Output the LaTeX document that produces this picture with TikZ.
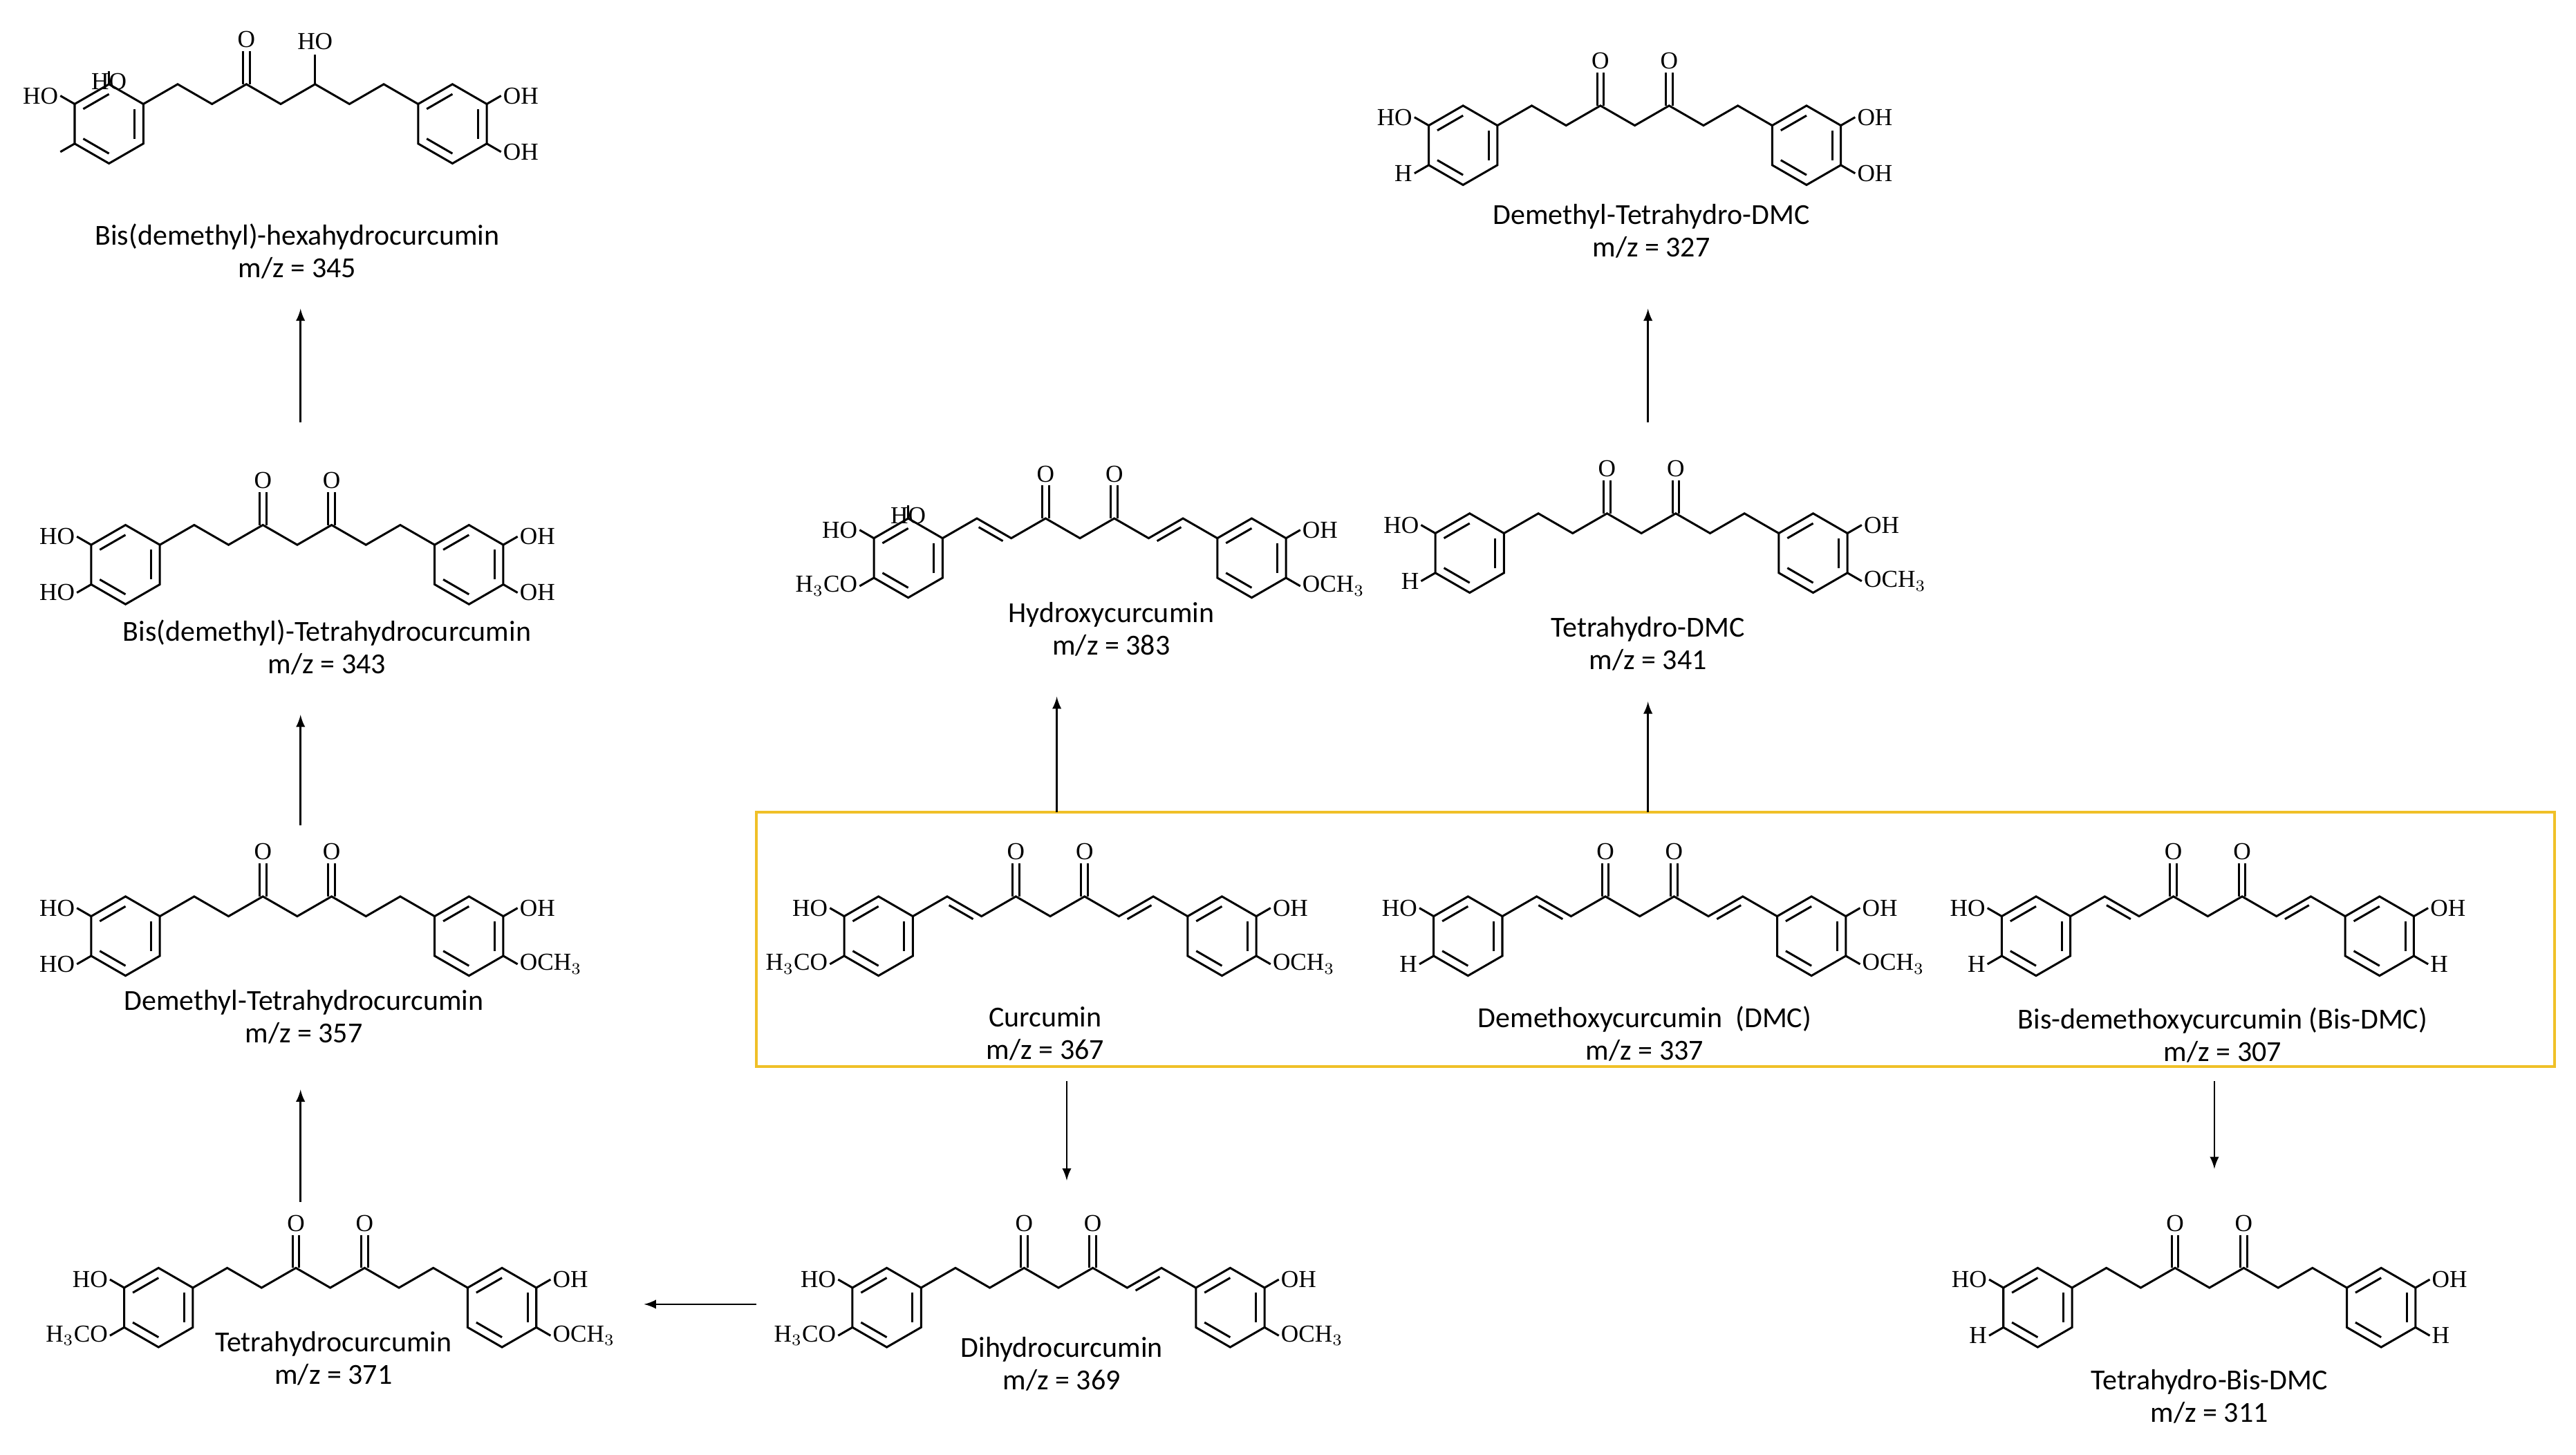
\documentclass[tikz,border=0pt]{standalone}
\usepackage{fontspec}
\setmainfont{Carlito}
\newfontfamily\atomfont{Liberation Serif}
\usetikzlibrary{calc}
\tikzset{
 bond/.style={line width=0.9pt,black},
 atom/.style={font=\atomfont\fontsize{10.5}{12}\selectfont,inner sep=0.5pt},
 mname/.style={font=\fontsize{12.5}{14}\selectfont,align=center,inner sep=0pt},
 rxn/.style={line width=0.8pt,-latex}
}
\newcommand\ringat[1]{%
 \draw[bond] ($#1+(30:24)$) -- ($#1+(90:24)$) -- ($#1+(150:24)$) -- ($#1+(210:24)$) -- ($#1+(270:24)$) -- ($#1+(330:24)$) -- cycle;
 \draw[bond] ($#1+(90:18)$) -- ($#1+(150:18)$);
 \draw[bond] ($#1+(210:18)$) -- ($#1+(270:18)$);
 \draw[bond] ($#1+(330:18)$) -- ($#1+(30:18)$);}
% mid x, ring y, chain type, L150, L210, R30, R330
\newcommand\molec[7]{%
\begin{scope}[shift={(#1,#2)}]
 \ringat{(-104,0)}\ringat{(104,0)}
 \draw[bond] (-83.2,-12) -- (-62.4,-24) -- (-41.6,-12) -- (-20.8,-24) -- (0,-12) -- (20.8,-24) -- (41.6,-12) -- (62.4,-24) -- (83.2,-12);
 \draw[bond] (-22.8,-24) -- (-22.8,-44) (-18.8,-24) -- (-18.8,-44);
 \node[atom] at (-20.8,-51) {O};
 \ifcase#3\or
  \draw[bond] (-61.3,-18.7) -- (-46.7,-10.3) (46.7,-10.3) -- (61.3,-18.7);
  \draw[bond] (18.8,-24) -- (18.8,-44) (22.8,-24) -- (22.8,-44); \node[atom] at (20.8,-51) {O};
 \or
  \draw[bond] (46.7,-10.3) -- (61.3,-18.7);
  \draw[bond] (18.8,-24) -- (18.8,-44) (22.8,-24) -- (22.8,-44); \node[atom] at (20.8,-51) {O};
 \or
  \draw[bond] (18.8,-24) -- (18.8,-44) (22.8,-24) -- (22.8,-44); \node[atom] at (20.8,-51) {O};
 \or
  \draw[bond] (20.8,-24) -- (20.8,-42); \node[atom] at (20.8,-50) {HO};
 \fi
 \draw[bond] ($(-104,0)+(150:24)$) -- ($(-104,0)+(150:34)$) node[atom,anchor=east] {#4};
 \draw[bond] ($(-104,0)+(210:24)$) -- ($(-104,0)+(210:34)$) node[atom,anchor=east] {#5};
 \draw[bond] ($(104,0)+(30:24)$) -- ($(104,0)+(30:34)$) node[atom,anchor=west] {#6};
 \draw[bond] ($(104,0)+(330:24)$) -- ($(104,0)+(330:34)$) node[atom,anchor=west] {#7};
\end{scope}}
\newcommand\HHHCO{H$_3$CO}
\newcommand\OCHHH{OCH$_3$}
\begin{document}
\begin{tikzpicture}[x=0.25mm,y=-0.25mm]
\useasboundingbox (0,0) rectangle (1560,881);
\draw[line width=1pt,color={rgb,255:red,240;green,192;blue,40}] (458,492) rectangle (1547,646);
% row 1
\molec{170}{75}{4}{}{HO}{OH}{OH}
\draw[bond] ($(66,75)+(270:24)$) -- ($(66,75)+(270:32)$) node[atom,anchor=north] {HO};
\node[mname] (n1) at (180,152) {Bis(demethyl)-hexahydrocurcumin\\m/z = 345};
\molec{990}{88}{3}{H}{HO}{OH}{OH}
\node[mname] (n2) at (1000,140) {Demethyl-Tetrahydro-DMC\\m/z = 327};
% row 2
\molec{180}{342}{3}{HO}{HO}{OH}{OH}
\node[mname] (n3) at (198,392) {Bis(demethyl)-Tetrahydrocurcumin\\m/z = 343};
\molec{654}{338}{1}{\HHHCO}{HO}{\OCHHH}{OH}
\draw[bond] ($(550,338)+(270:24)$) -- ($(550,338)+(270:32)$) node[atom,anchor=north] {HO};
\node[mname] (n4) at (673,381) {Hydroxycurcumin\\m/z = 383};
\molec{994}{335}{3}{H}{HO}{\OCHHH}{OH}
\node[mname] (n5) at (998,390) {Tetrahydro-DMC\\m/z = 341};
% row 3
\molec{180}{567}{3}{HO}{HO}{\OCHHH}{OH}
\node[mname] (n6) at (184,616) {Demethyl-Tetrahydrocurcumin\\m/z = 357};
\molec{636}{567}{1}{\HHHCO}{HO}{\OCHHH}{OH}
\node[mname] (n7) at (633,626) {Curcumin\\m/z = 367};
\molec{993}{567}{1}{H}{HO}{\OCHHH}{OH}
\node[mname] (n8) at (996,626) {Demethoxycurcumin\ \ (DMC)\\m/z = 337};
\molec{1337}{567}{1}{H}{HO}{H}{OH}
\node[mname] (n9) at (1346,627) {Bis-demethoxycurcumin (Bis-DMC)\\m/z = 307};
% row 4
\molec{200}{792}{3}{\HHHCO}{HO}{\OCHHH}{OH}
\node[mname] (n10) at (202,823) {Tetrahydrocurcumin\\m/z = 371};
\molec{641}{792}{2}{\HHHCO}{HO}{\OCHHH}{OH}
\node[mname] (n11) at (643,826) {Dihydrocurcumin\\m/z = 369};
\molec{1338}{792}{3}{H}{HO}{H}{OH}
\node[mname] (n12) at (1338,846) {Tetrahydro-Bis-DMC\\m/z = 311};
% arrows
\coordinate (a1) at (182,256); \coordinate (b1) at (182,187);
\coordinate (a2) at (182,500); \coordinate (b2) at (182,433);
\coordinate (a3) at (182,728); \coordinate (b3) at (182,660);
\coordinate (a4) at (458,790); \coordinate (b4) at (390,790);
\coordinate (a5) at (640,492); \coordinate (b5) at (640,422);
\coordinate (a6) at (998,492); \coordinate (b6) at (998,425);
\coordinate (a7) at (998,256); \coordinate (b7) at (998,187);
\coordinate (a8) at (646,655); \coordinate (b8) at (646,715);
\coordinate (a9) at (1341,655); \coordinate (b9) at (1341,708);
\foreach \i in {1,...,9} \draw[rxn] (a\i) -- (b\i);
\end{tikzpicture}
\end{document}
